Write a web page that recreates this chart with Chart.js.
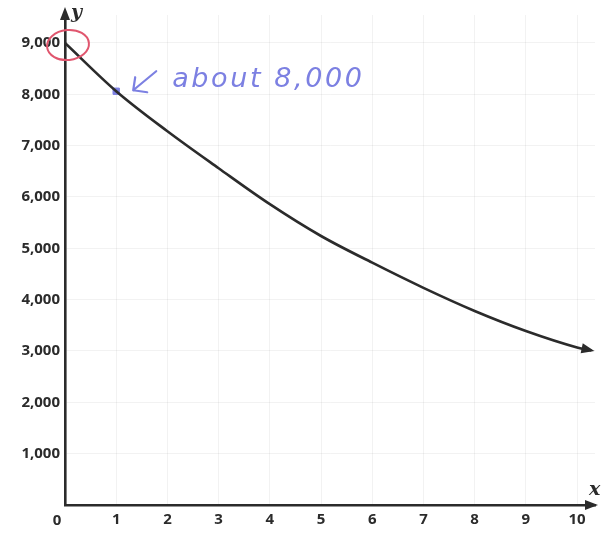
<!DOCTYPE html>
<html lang="en">
<head>
    <meta charset="UTF-8">
    <title>Decay Curve</title>
    <script src="https://cdn.jsdelivr.net/npm/chart.js"></script>
    <style>
        body { margin: 0; padding: 0; background: #fff; }
        #chart { display: block; }
    </style>
</head>
<body>

<canvas id="chart" width="601" height="535"></canvas>

<script>
    // values
    const xValues = [0, 1, 2, 3, 4, 5, 6, 7, 8, 9, 10, 10.28];
    const yValues = [9000, 8060, 7280, 6560, 5860, 5240, 4720, 4230, 3780, 3390, 3070, 3010];
    const xTicks = [0, 1, 2, 3, 4, 5, 6, 7, 8, 9, 10];
    const yTicks = [1000, 2000, 3000, 4000, 5000, 6000, 7000, 8000, 9000];
    const markedX = [1];
    const markedY = [8060];
    const noteText = 'about 8,000';

    const ink = '#2b2b2b';
    const penBlue = '#7c80e2';
    const penRed = '#e0566e';
    const tickFont = { family: 'Open Sans', size: 15, weight: 'bold' };

    function arrowHead(ctx, tx, ty, ang, len, half) {
        const bx = tx - len * Math.cos(ang), by = ty - len * Math.sin(ang);
        ctx.beginPath();
        ctx.moveTo(tx, ty);
        ctx.lineTo(bx - half * Math.sin(ang), by + half * Math.cos(ang));
        ctx.lineTo(bx + half * Math.sin(ang), by - half * Math.cos(ang));
        ctx.closePath();
        ctx.fill();
    }

    // arrows, axis names and the pen marks
    const extras = {
        id: 'extras',
        afterDraw(chart) {
            const { ctx, chartArea: a, scales: { x, y } } = chart;
            ctx.save();
            ctx.fillStyle = ink;
            arrowHead(ctx, a.left, a.top - 8, -Math.PI / 2, 13, 5);
            arrowHead(ctx, a.right + 3, a.bottom, 0, 13, 5);

            // end of the curve
            const n = xValues.length;
            const px = x.getPixelForValue(xValues[n - 1]), py = y.getPixelForValue(yValues[n - 1]);
            const qx = x.getPixelForValue(xValues[n - 2]), qy = y.getPixelForValue(yValues[n - 2]);
            arrowHead(ctx, px + 3, py + 0.5, Math.atan2(py - qy, px - qx), 13, 5);

            // axis names and the origin label
            ctx.font = 'italic bold 19px "DejaVu Serif"';
            ctx.textBaseline = 'middle';
            ctx.textAlign = 'left';
            ctx.fillText('y', a.left + 6, 13);
            ctx.fillText('x', a.right - 6, a.bottom - 15);
            ctx.font = 'bold 15px "Open Sans"';
            ctx.textAlign = 'center';
            ctx.fillText('0', x.getPixelForValue(0) - 8, a.bottom + 16);

            // red circle round the start value
            const ox = x.getPixelForValue(0) + 3, oy = y.getPixelForValue(9000) + 2;
            ctx.strokeStyle = penRed;
            ctx.lineWidth = 2;
            ctx.beginPath();
            ctx.ellipse(ox, oy, 21, 15, -0.1, 0, Math.PI * 2);
            ctx.stroke();

            // blue note
            const mx = x.getPixelForValue(markedX[0]), my = y.getPixelForValue(markedY[0]);
            ctx.strokeStyle = penBlue;
            ctx.lineWidth = 2.2;
            ctx.lineCap = 'round';
            ctx.beginPath();
            ctx.moveTo(mx + 17, my - 1);
            ctx.lineTo(mx + 40, my - 20);
            ctx.moveTo(mx + 17, my - 1);
            ctx.lineTo(mx + 19, my - 14);
            ctx.moveTo(mx + 17, my - 1);
            ctx.lineTo(mx + 31, my + 1);
            ctx.stroke();
            ctx.fillStyle = penBlue;
            ctx.font = 'italic 27px "DejaVu Sans"';
            ctx.textAlign = 'left';
            ctx.textBaseline = 'alphabetic';
            ctx.letterSpacing = '2.6px';
            ctx.fillText(noteText, mx + 56, my - 4);
            ctx.restore();
        }
    };

    const ctx = document.getElementById('chart').getContext('2d');
    const chart = new Chart(ctx, {
        type: 'line',
        data: {
            datasets: [{
                data: xValues.map((v, i) => ({ x: v, y: yValues[i] })),
                borderColor: ink,
                borderWidth: 2.6,
                pointRadius: 0,
                cubicInterpolationMode: 'monotone',
                fill: false
            }, {
                data: markedX.map((v, i) => ({ x: v, y: markedY[i] })),
                showLine: false,
                pointRadius: 4.5,
                pointStyle: 'rect',
                pointBackgroundColor: penBlue,
                pointBorderColor: penBlue
            }]
        },
        options: {
            responsive: false,
            animation: false,
            devicePixelRatio: 1,
            layout: { padding: { top: 15, right: 6, left: 0, bottom: 0 } },
            plugins: { legend: { display: false }, tooltip: { enabled: false } },
            scales: {
                x: {
                    type: 'linear',
                    min: 0,
                    max: 10.35,
                    afterBuildTicks: s => { s.ticks = xTicks.map(v => ({ value: v })); },
                    afterFit: s => { s.height = 30; },
                    ticks: {
                        color: ink,
                        font: tickFont,
                        padding: 6,
                        maxRotation: 0,
                        autoSkip: false,
                        callback: v => v === 0 ? '' : String(v)
                    },
                    grid: { color: 'rgba(0,0,0,0.05)', drawTicks: false },
                    border: { color: ink, width: 2.6 }
                },
                y: {
                    type: 'linear',
                    min: 0,
                    max: 9545,
                    afterBuildTicks: s => { s.ticks = yTicks.map(v => ({ value: v })); },
                    afterFit: s => { s.width = 65; },
                    ticks: {
                        color: ink,
                        font: tickFont,
                        padding: 5,
                        callback: v => v.toLocaleString('en-US')
                    },
                    grid: { color: 'rgba(0,0,0,0.05)', drawTicks: false },
                    border: { color: ink, width: 2.6 }
                }
            }
        },
        plugins: [extras]
    });
</script>

</body>
</html>
